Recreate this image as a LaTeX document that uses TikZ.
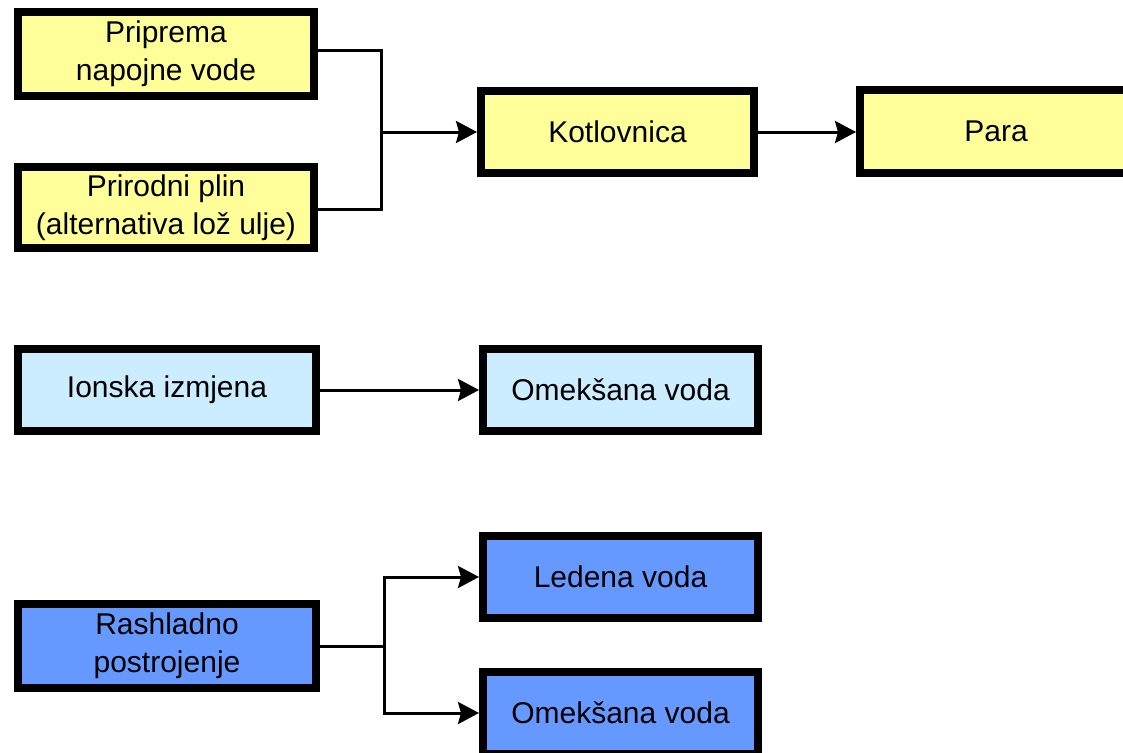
\documentclass[tikz,border=0pt]{standalone}
\usepackage{fontspec}
\setmainfont{Liberation Sans}
\usetikzlibrary{arrows.meta}
\definecolor{boxyellow}{HTML}{FFFF99}
\definecolor{boxlightblue}{HTML}{CCECFF}
\definecolor{boxblue}{HTML}{6699FF}
\tikzset{
  box/.style={draw=black, line width=8pt, inner sep=0pt, align=center,
    font=\fontsize{30}{38}\selectfont, text=black},
  ybox/.style={box, fill=boxyellow},
  lbbox/.style={box, fill=boxlightblue},
  bbox/.style={box, fill=boxblue},
  conn/.style={draw=black, line width=3pt, line join=miter},
  arr/.style={conn, -{Stealth[length=21pt,width=22pt,inset=3pt]}},
}
\begin{document}
\begin{tikzpicture}[x=1pt,y=-1pt]
\useasboundingbox (0,0) rectangle (1123,752);
\clip (0,0) rectangle (1123,752);
\fill[white] (0,0) rectangle (1123,752);

% top group
\node[ybox, minimum width=296pt, minimum height=83pt] (prip) at (166,54) {Priprema\\napojne vode};
\node[ybox, minimum width=296pt, minimum height=81pt] (plin) at (166,207.5) {Prirodni plin\\(alternativa lož ulje)};
\node[ybox, minimum width=273pt, minimum height=82pt] (kotl) at (617.5,132) {Kotlovnica};
\node[ybox, minimum width=272pt, minimum height=83pt] (para) at (996,131.5) {Para};

% middle group
\node[lbbox, minimum width=298pt, minimum height=82pt] (ionska) at (167,390) {Ionska izmjena};
\node[lbbox, minimum width=275pt, minimum height=82pt] (omek1) at (620.5,390) {Omekšana voda};

% bottom group
\node[bbox, minimum width=298pt, minimum height=84pt] (rash) at (167,646) {Rashladno\\postrojenje};
\node[bbox, minimum width=275pt, minimum height=82pt] (led) at (620.5,577) {Ledena voda};
\node[bbox, minimum width=275pt, minimum height=82pt] (omek2) at (620.5,713) {Omekšana voda};

% connectors top
\coordinate (j1) at (381,132);
\draw[conn] ([yshift=3pt]prip.east) -| (j1);
\draw[conn] ([yshift=-2pt]plin.east) -| (j1);
\draw[arr] (j1) -- (kotl.west);
\draw[arr] (kotl.east) -- (kotl.east -| para.west);

% connector middle
\draw[arr] (ionska.east) -- (omek1.west);

% connectors bottom
\coordinate (j2) at (384,646);
\draw[conn] (rash.east) -- (j2);
\draw[arr] (j2) |- (led.west);
\draw[arr] (j2) |- (omek2.west);
\end{tikzpicture}
\end{document}
